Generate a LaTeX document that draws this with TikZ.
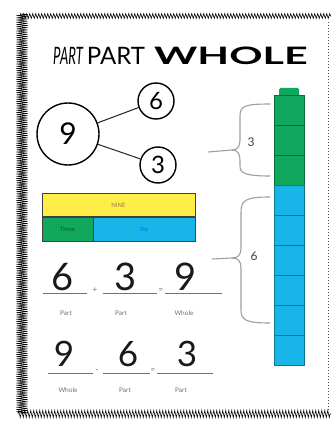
\documentclass[tikz,border=0pt]{standalone}
\usepackage{fontspec}
\setmainfont{Lato}
\usetikzlibrary{decorations.pathmorphing}

\definecolor{cubegreen}{RGB}{16,168,92}
\definecolor{cubeblue}{RGB}{24,182,232}
\definecolor{baryellow}{RGB}{255,238,72}

\begin{document}
\begin{tikzpicture}[x=1pt, y=-1pt,
      every node/.style={font=\small},
      wavy/.style={line width=0.55pt, decorate, decoration={zigzag, segment length=3pt, amplitude=2.5pt}},
      bigcircle/.style={circle, draw=black, line width=1.4pt, minimum size=62pt, inner sep=0pt, font=\fontsize{30}{30}\selectfont},
      partcircle/.style={circle, draw=black, line width=1.4pt, minimum size=36pt, inner sep=0pt, font=\fontsize{24}{24}\selectfont},
      link/.style={line width=1pt, black!85},
      barcell/.style={rectangle, draw=black!75, line width=1pt, minimum height=23.5pt, inner sep=0pt, font=\fontsize{6}{6}\selectfont},
      cube/.style={rectangle, line width=0.6pt, minimum width=30pt, minimum height=30pt, inner sep=0pt},
      bracket/.style={gray!75, line width=1.1pt},
      bracelabel/.style={font=\fontsize{12}{12}\selectfont, black!75},
      digit/.style={anchor=base, inner sep=0pt, font=\fontsize{38}{38}\selectfont, black!90},
      smalldigit/.style={digit, font=\fontsize{35}{35}\selectfont},
      blank/.style={black!55, line width=0.6pt},
      opsign/.style={font=\fontsize{8}{8}\selectfont, black!55, inner sep=0pt},
      caption/.style={font=\fontsize{6.5}{6.5}\selectfont, black!55}
  ]
    \useasboundingbox (0,0) rectangle (332,425);
    \fill[white] (0,0) rectangle (332,425);

    \draw[wavy] (20,16) -- (331,16);
    \draw[wavy, decoration={zigzag, segment length=2.2pt, amplitude=5.5pt}] (22,14) -- (22,414);
    \draw[wavy, decoration={zigzag, segment length=3pt, amplitude=3.5pt}] (18,414) -- (331,414);
    \draw[dotted, line width=1pt, black!70] (328,22) -- (328,410);

    \node[anchor=base west, inner sep=0pt, font=\fontsize{24}{24}\selectfont] (title) at (53,65)
      {\scalebox{0.55}[1]{\itshape PART}\,PART\hspace{9pt}\scalebox{1.72}[1]{\bfseries WHOLE}};

    \node[bigcircle] (nine) at (68,134) {9};
    \node[partcircle] (six) at (156,101) {6};
    \node[partcircle] (three) at (158,165) {3};
    \draw[link] (nine) -- (six);
    \draw[link] (nine) -- (three);

    \fill[cubegreen, rounded corners=1.5pt] (279,88) rectangle (299,97);
    \foreach \i in {0,...,8} {
      \ifnum\i<3
        \node[cube, fill=cubegreen, draw=cubegreen!65!black] (cube\i) at (289,110+30*\i) {};
      \else
        \node[cube, fill=cubeblue, draw=cubeblue!65!black] (cube\i) at (289,110+30*\i) {};
      \fi
    }

    \draw[bracket] (270,104) .. controls (245,104) and (240,106) .. (240,116) -- (240,140)
      .. controls (240,147) and (237,150) .. (232,150) -- (208,152);
    \draw[bracket] (232,150) .. controls (237,150) and (240,153) .. (240,160) -- (240,166)
      .. controls (240,173) and (245,176) .. (270,176);
    \node[bracelabel] (lblthree) at (251,142) {3};

    \draw[bracket] (270,197) .. controls (246,197) and (241,200) .. (241,212) -- (241,248)
      .. controls (241,255) and (238,258) .. (232,258) -- (212,259);
    \draw[bracket] (232,258) .. controls (238,258) and (241,261) .. (241,268) -- (241,310)
      .. controls (241,320) and (246,323) .. (270,323);
    \node[bracelabel] (lblsix) at (254,256) {6};

    \node[barcell, fill=baryellow, minimum width=153pt, text=black!55!yellow!80!red] (whole) at (118.5,205) {NINE};
    \node[barcell, fill=cubegreen, minimum width=51pt, text=black!60!green, anchor=north west] (partthree) at (whole.south west) {Three};
    \node[barcell, fill=cubeblue, minimum width=102pt, text=blue!60!cyan, anchor=north east] (partsix) at (whole.south east) {Six};

    \node[digit] (addsix) at (63,290) {6};
    \node[digit] (addthree) at (126,290) {3};
    \node[digit] (addnine) at (186,290) {9};
    \draw[blank] (43,293) -- (87,293);
    \draw[blank] (103,293) -- (157,293);
    \draw[blank] (165,293) -- (222,293);
    \node[opsign] (plus) at (95,290) {+};
    \node[opsign] (eqone) at (161,291) {=};
    \node[caption] (capone) at (66,313) {Part};
    \node[caption] (captwo) at (121,313) {Part};
    \node[caption] (capthree) at (184,313) {Whole};

    \node[smalldigit] (subnine) at (64,366) {9};
    \node[smalldigit] (subsix) at (128,366) {6};
    \node[smalldigit] (subthree) at (187,366) {3};
    \draw[blank] (48,373) -- (93,373);
    \draw[blank] (103,373) -- (150,373);
    \draw[blank] (157,373) -- (213,373);
    \node[opsign] (minus) at (97,371) {-};
    \node[opsign] (eqtwo) at (153,371) {=};
    \node[caption] (capfour) at (68,390) {Whole};
    \node[caption] (capfive) at (125,390) {Part};
    \node[caption] (capsix) at (181,390) {Part};
  \end{tikzpicture}
\end{document}
